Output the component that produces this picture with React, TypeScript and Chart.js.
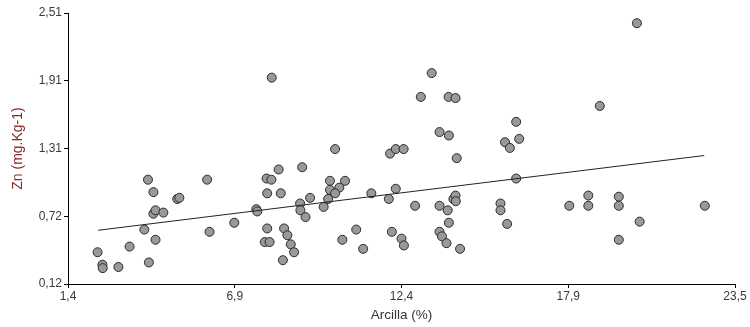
import React, { useEffect, useRef } from "react";
import { Chart, registerables } from "chart.js";

Chart.register(...registerables);

// Arcilla (%) values
const arcilla = [
  2.38, 2.54, 2.55, 3.07, 3.44, 3.93, 4.05, 4.08, 4.23, 4.23,
  4.30, 4.30, 4.56, 5.02, 5.09, 6.01, 6.09, 6.91, 7.64, 7.67,
  7.98, 8.14, 8.00, 8.00, 7.92, 8.08, 8.38, 8.45, 8.56, 8.67,
  8.52, 8.78, 8.89, 8.15, 9.16, 9.42, 9.09, 9.10, 9.27, 10.08,
  10.58, 10.39, 10.08, 10.25, 10.02, 9.87, 10.49, 10.95, 11.18, 10.25,
  11.45, 12.07, 12.26, 12.52, 12.26, 12.03, 12.90, 12.13, 12.45, 12.53,
  13.09, 13.45, 14.01, 14.24, 13.71, 14.02, 14.28, 13.71, 13.98, 14.17,
  14.24, 14.25, 14.02, 13.71, 13.79, 13.94, 14.39, 16.25, 16.35, 15.88,
  16.04, 16.25, 15.73, 15.73, 15.95, 18.01, 18.64, 18.64, 19.65, 19.65,
  20.34, 19.65, 22.50, 19.02, 20.25,
];

// Zn (mg.Kg-1) values
const zinc = [
  0.40, 0.29, 0.26, 0.27, 0.45, 0.60, 1.04, 0.31, 0.93, 0.74,
  0.77, 0.51, 0.75, 0.87, 0.88, 1.04, 0.58, 0.66, 0.78, 0.76,
  1.05, 1.04, 0.92, 0.61, 0.49, 0.49, 1.13, 0.92, 0.61, 0.55,
  0.33, 0.47, 0.40, 1.94, 1.15, 0.88, 0.83, 0.77, 0.71, 1.03,
  1.03, 0.97, 0.95, 0.92, 0.87, 0.80, 0.51, 0.60, 0.43, 1.31,
  0.92, 1.27, 1.31, 1.31, 0.96, 0.87, 0.81, 0.58, 0.52, 0.46,
  1.77, 1.98, 1.77, 1.76, 1.46, 1.43, 1.23, 0.81, 0.77, 0.87,
  0.90, 0.85, 0.66, 0.58, 0.54, 0.48, 0.43, 1.55, 1.40, 1.37,
  1.32, 1.05, 0.83, 0.77, 0.65, 0.81, 0.90, 0.81, 0.89, 0.81,
  0.67, 0.51, 0.81, 1.69, 2.42,
];

// Trend line end points
const trendX = [2.40, 22.48];
const trendY = [0.594, 1.253];

const xTickValues = [1.4, 6.925, 12.45, 17.975, 23.5];
const xTickLabels = ["1,4", "6,9", "12,4", "17,9", "23,5"];
const yTickValues = [0.12, 0.7175, 1.315, 1.9125, 2.51];
const yTickLabels = ["0,12", "0,72", "1,31", "1,91", "2,51"];

const xTitle = "Arcilla (%)";
const yTitle = "Zn (mg.Kg-1)";

export default function App() {
  const ref = useRef<HTMLCanvasElement | null>(null);

  useEffect(() => {
    if (!ref.current) return;
    const points = arcilla.map((x, i) => ({ x, y: zinc[i] }));
    const line = trendX.map((x, i) => ({ x, y: trendY[i] }));
    const tickFont = { family: "'Liberation Sans', Arial, sans-serif", size: 12 };
    const chart = new Chart(ref.current, {
      type: "scatter",
      data: {
        datasets: [
          {
            type: "line",
            data: line,
            borderColor: "#222222",
            borderWidth: 1,
            pointRadius: 0,
            fill: false,
            order: 0,
          } as any,
          {
            data: points,
            backgroundColor: "#999999",
            borderColor: "#2a2a2a",
            borderWidth: 1,
            pointRadius: 4.5,
            order: 1,
          },
        ],
      },
      options: {
        responsive: false,
        animation: false,
        devicePixelRatio: 1,
        layout: { padding: { top: 13, right: 15, left: 0, bottom: 0 } },
        plugins: { legend: { display: false }, tooltip: { enabled: false } },
        scales: {
          x: {
            type: "linear",
            min: 1.4,
            max: 23.5,
            afterBuildTicks: (scale: any) => {
              scale.ticks = xTickValues.map((v) => ({ value: v }));
            },
            afterFit: (scale: any) => {
              scale.height = 43;
            },
            ticks: {
              autoSkip: false,
              maxRotation: 0,
              padding: 1,
              color: "#3a3a3a",
              font: tickFont,
              callback: (_v: any, i: number) => xTickLabels[i],
            },
            grid: {
              display: true,
              drawOnChartArea: false,
              drawTicks: true,
              tickLength: 4,
              color: "#000000",
            },
            border: { display: true, color: "#000000", width: 1 },
            title: {
              display: true,
              text: xTitle,
              color: "#333333",
              font: { family: "'Liberation Sans', Arial, sans-serif", size: 13.5 },
              padding: { top: 0, bottom: 4 },
            },
          },
          y: {
            type: "linear",
            min: 0.12,
            max: 2.51,
            afterBuildTicks: (scale: any) => {
              scale.ticks = yTickValues.map((v) => ({ value: v }));
            },
            afterFit: (scale: any) => {
              scale.width = 68;
            },
            ticks: {
              autoSkip: false,
              padding: 2,
              color: "#3a3a3a",
              font: tickFont,
              callback: (_v: any, i: number) => yTickLabels[i],
            },
            grid: {
              display: true,
              drawOnChartArea: false,
              drawTicks: true,
              tickLength: 4,
              color: "#000000",
            },
            border: { display: true, color: "#000000", width: 1 },
            title: {
              display: true,
              text: yTitle,
              color: "#8b2a2a",
              font: { family: "'Liberation Sans', Arial, sans-serif", size: 14 },
              padding: { top: 10, bottom: 0 },
            },
          },
        },
      },
    });
    return () => chart.destroy();
  }, []);

  return (
    <div style={{ position: "absolute", left: 0, top: 0, width: 750, height: 327, background: "#ffffff" }}>
      <canvas ref={ref} width={750} height={327} style={{ display: "block" }} />
    </div>
  );
}
